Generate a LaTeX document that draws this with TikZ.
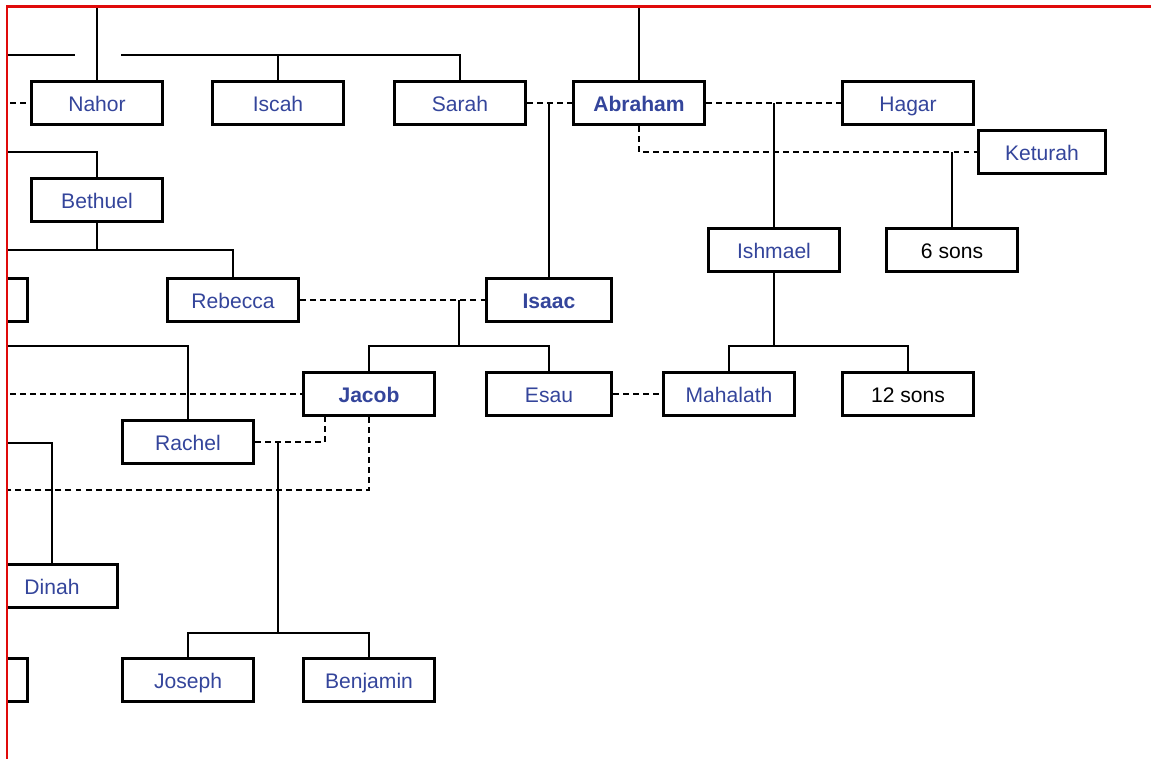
\documentclass[tikz,border=0pt]{standalone}
\usepackage{fontspec}
\setmainfont{Liberation Sans}
\definecolor{nameblue}{HTML}{34459B}
\definecolor{frame}{HTML}{E00A0A}
\tikzstyle{block} = [rectangle, draw, line width=1.7pt, minimum width=2.63cm, minimum height=0.86cm, inner sep=0pt, text height=11.6pt, text depth=2.2pt, text=nameblue, font=\fontsize{12}{14}\selectfont]

\begin{document}
\begin{tikzpicture}[x=0.02cm, y=-0.02cm, line width=0.85pt]
	\tikzstyle{marry}=[dash pattern=on 3.4pt off 2.3pt]
	\tikzstyle{narrow}=[minimum width=2.5cm]
	\tikzstyle{main}=[font=\fontsize{12}{14}\selectfont\bfseries]
	\tikzstyle{plain}=[text=black]
\useasboundingbox (0,0) rectangle (1151,759);
\begin{scope}
\clip (8,8) rectangle (1151,759);
  \node[block] (nahor) at (97,103) {Nahor};
  \node[block] (iscah) at (278,103) {Iscah};
  \node[block] (sarah) at (460,103) {Sarah};
  \node[block,main] (abraham) at (639,103) {Abraham};
  \node[block] (hagar) at (908,103) {Hagar};
  \node[block,minimum width=2.54cm] (keturah) at (1042,152) {Keturah};
  \node[block] (bethuel) at (97,200) {Bethuel};
  \node[block] (ishmael) at (774,250) {Ishmael};
  \node[block,plain] (sons6) at (952,250) {6 sons};
  \node[block] (hidden1) at (-38,300) {};
  \node[block] (rebecca) at (233,300) {Rebecca};
  \node[block,main,narrow] (isaac) at (549,300) {Isaac};
  \node[block,main] (jacob) at (369,394) {Jacob};
  \node[block,narrow] (esau) at (549,394) {Esau};
  \node[block] (mahalath) at (729,394) {Mahalath};
  \node[block,plain] (sons12) at (908,394) {12 sons};
  \node[block] (rachel) at (188,442) {Rachel};
  \node[block] (dinah) at (52,586) {Dinah};
  \node[block] (hidden2) at (-38,680) {};
  \node[block] (joseph) at (188,680) {Joseph};
  \node[block] (benjamin) at (369,680) {Benjamin};
  \coordinate (top97) at (97,0);
  \coordinate (top639) at (639,0);
  \coordinate (left55) at (0,55);
  \coordinate (gap1) at (75,55);
  \coordinate (gap2) at (121,55);
  \coordinate (left103) at (0,103);
  \coordinate (left152) at (0,152);
  \coordinate (left250) at (0,250);
  \coordinate (left346) at (0,346);
  \coordinate (left394) at (0,394);
  \coordinate (left443) at (0,443);
  \coordinate (left490) at (0,490);
  \coordinate (ri) at (459,300);
  \coordinate (ri2) at (459,346);
  \coordinate (ish2) at (774,346);
  \coordinate (jacobL) at (325,416);
  \coordinate (rj) at (278,442);
  \coordinate (rj2) at (278,633);
\draw (top97) -- (nahor.north);
\draw (top639) -- (abraham.north);
\draw (left55) -- (gap1);
\draw (gap2) -| (sarah.north);
\draw (iscah.north) -- (iscah.north |- gap2);
\draw[marry] (left103) -- (nahor);
\draw[marry] (sarah) -- (abraham);
\draw (isaac.north) -- (isaac.north |- sarah.east);
\draw[marry] (abraham) -- (hagar);
\draw (ishmael.north) -- (ishmael.north |- hagar.west);
\draw[marry] (abraham.south) |- (keturah.west);
\draw (sons6.north) -- (sons6.north |- keturah.west);
\draw (left152) -| (bethuel.north);
\draw (bethuel.south) -- (bethuel.south |- left250);
\draw (left250) -| (rebecca.north);
\draw[marry] (rebecca) -- (isaac);
\draw (ri) -- (ri2);
\draw (jacob.north) |- (ri2) -| (esau.north);
\draw (left346) -| (rachel.north);
\draw[marry] (left394) -- (jacob);
\draw[marry] (esau) -- (mahalath);
\draw (ishmael.south) -- (ish2);
\draw (mahalath.north) |- (ish2) -| (sons12.north);
\draw[marry] (rachel) -| (jacobL);
\draw (rj) -- (rj2);
\draw (joseph.north) |- (rj2) -| (benjamin.north);
\draw[marry] (jacob.south) |- (left490);
\draw (left443) -| (dinah.north);
\end{scope}
\draw[frame, line width=1.7pt] (7,759) -- (7,7) -- (1151,7);
\end{tikzpicture}
\end{document}
